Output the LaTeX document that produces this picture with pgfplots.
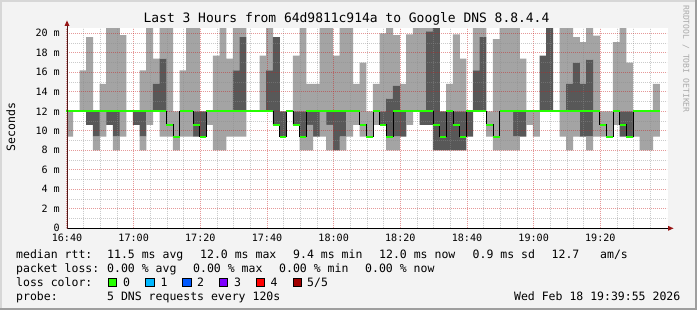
\documentclass[border=0pt]{standalone}
\usepackage{pgfplots}
\pgfplotsset{compat=1.18}
\usepackage{pgfplotstable}
\usepackage{fontspec}
\setmainfont{DejaVu Sans Mono}

\definecolor{bgc}{RGB}{243,243,243}
\definecolor{shadea}{RGB}{215,215,215}
\definecolor{shadeb}{RGB}{158,158,158}
\definecolor{smokelight}{RGB}{164,164,164}
\definecolor{smokedark}{RGB}{88,88,88}
\definecolor{lossg}{HTML}{26FF00}
\definecolor{loss1}{HTML}{00B8FF}
\definecolor{loss2}{HTML}{0059FF}
\definecolor{loss3}{HTML}{7E00FF}
\definecolor{loss4}{HTML}{FF0000}
\definecolor{loss5}{HTML}{A10000}
\definecolor{arrowc}{RGB}{150,20,20}
\definecolor{yaxc}{RGB}{80,25,25}
\definecolor{mgridc}{RGB}{200,30,30}
\definecolor{gridc}{RGB}{140,140,140}
\definecolor{wmark}{RGB}{170,170,170}

\newcommand{\lf}{\fontsize{11.5bp}{13bp}\selectfont}
\newcommand{\af}{\fontsize{10.08bp}{12bp}\selectfont}
\newcommand{\tf}{\fontsize{12.96bp}{15bp}\selectfont}
\newcommand{\wf}{\fontsize{8.1bp}{9bp}\selectfont}

% t = minutes after 16:40; lo = fastest ping, q1 = 2nd, med = median, q3 = 4th, hi = slowest (ms)
\pgfplotstableread{
t lo q1 med q3 hi
0 9.4 12 12 12 12
2 12 12 12 12 12
4 12 12 12 12 16.2
6 10.6 10.6 12 12 19.6
8 8 9.4 12 12 12
10 9.4 12 12 12 14.8
12 10.6 10.6 12 12 21
14 8 9.4 12 12 21
16 9.4 12 12 12 19.8
18 12 12 12 12 12
20 10.6 10.6 12 12 12
22 8 9.4 12 12 16.2
24 10.6 12 12 12 21
26 12 12 12 14.8 17.4
28 9.4 12 12 17.4 21
30 9.4 10.6 10.6 10.6 21
32 8 9.4 9.4 9.4 12
34 9.4 12 12 12 16.2
36 9.4 12 12 12 21
38 9.4 9.4 10.6 12 21
40 9.4 9.4 9.4 12 12
42 10.6 12 12 12 12
44 8 12 12 12 17.7
46 8 12 12 12 21
48 9.4 12 12 12 17.4
50 9.4 12 12 16.2 21
52 9.4 12 12 19.6 21
54 12 12 12 12 12
56 12 12 12 12 12
58 12 12 12 12 17.7
60 12 12 12 16.2 21
62 10.6 10.6 10.6 19.6 19.6
64 9.4 9.4 9.4 12 12
66 12 12 12 12 12
68 10.6 10.6 10.6 12 17.7
70 8 9.4 9.4 12 21
72 8 10.6 12 12 14.8
74 9.4 9.4 12 12 14.8
76 9.4 12 12 12 21
78 8 10.6 12 12 21
80 8 8 12 12 17.7
82 8 9.4 12 12 21
84 9.4 12 12 12 21
86 10.6 12 12 12 14.8
88 9.4 10.6 10.6 10.6 17.0
90 9.4 9.4 9.4 9.4 12
92 10.6 12 12 12 14.8
94 10.6 10.6 10.6 12 20.0
96 8 9.4 9.4 13.3 21
98 8 9.4 12 14.6 19.8
100 9.4 9.4 12 12 14.8
102 10.6 12 12 12 19.9
104 12 12 12 12 21
106 10.6 10.6 12 12 21
108 10.6 10.6 12 20.2 21
110 8 8 10.6 21 21
112 8 8 9.4 12 12
114 8 8 12 12 14.8
116 8 8 10.6 12 19.9
118 8 8 9.4 12 17.4
120 9.4 9.4 12 12 12
122 12 12 12 16.2 21
124 12 12 12 19.6 21
126 9.4 10.6 10.6 10.6 12
128 8 9.4 9.4 9.4 19.4
130 8 12 12 12 21
132 8 12 12 12 21
134 8 9.4 12 12 21
136 9.4 9.4 12 12 17.4
138 10.6 12 12 12 12
140 9.4 12 12 12 12
142 12 12 12 17.7 17.7
144 12 12 12 21 21
146 12 12 12 12 12
148 9.4 12 12 12 21
150 8 12 12 14.8 21
152 9.4 12 12 17.0 19.6
154 9.4 9.4 12 14.8 19.1
156 8 9.4 12 17.3 21
158 9.4 12 12 12 19.75
160 9.4 10.6 10.6 10.6 12
162 9.4 9.4 9.4 9.4 12
164 10.6 12 12 12 19.1
166 9.4 9.4 10.6 12 21
168 9.4 9.4 9.4 12 17.0
170 9.4 12 12 12 12
172 8 12 12 12 12
174 8 12 12 12 12
176 9.4 12 12 12 14.8
178 9.4 12 12 12 14.8
}\smoke

\pgfplotsset{
  chartframe/.style={
    at={(67bp,81.7bp)}, anchor=south west,
    scale only axis, width=600bp, height=200bp,
    xmin=0, xmax=180, ymin=0, ymax=20.5128,
  },
}

\begin{document}
\begin{tikzpicture}
\fill[bgc] (0,0) rectangle (697bp,310bp);
\fill[white] (67bp,81.7bp) rectangle (668bp,282bp);
% smoke layers
\begin{axis}[chartframe, hide axis,
  ybar stacked, bar width=2.06, bar shift=0pt,
  every axis plot/.append style={draw=none, skip coords between index={89}{90}},
]
\addplot[fill=none, draw=none] table[x expr=\thisrow{t}+0.8, y=lo] {\smoke};
\addplot[fill=smokelight, draw=none] table[x expr=\thisrow{t}+0.8, y expr=\thisrow{q1}-\thisrow{lo}] {\smoke};
\addplot[fill=smokedark, draw=none] table[x expr=\thisrow{t}+0.8, y expr=\thisrow{q3}-\thisrow{q1}] {\smoke};
\addplot[fill=smokelight, draw=none] table[x expr=\thisrow{t}+0.8, y expr=\thisrow{hi}-\thisrow{q3}] {\smoke};
\end{axis}
% grid, labels, median
\begin{axis}[chartframe,
  axis line style={draw=none},
  tick style={draw=none},
  xtick={0,20,...,160},
  xticklabels={16:40,17:00,17:20,17:40,18:00,18:20,18:40,19:00,19:20},
  minor xtick={5,10,15,25,30,35,45,50,55,65,70,75,85,90,95,105,110,115,125,130,135,145,150,155,165,170,175},
  ytick={0,2,...,20},
  yticklabels={0,2 m,4 m,6 m,8 m,10 m,12 m,14 m,16 m,18 m,20 m},
  minor ytick={1,3,...,19},
  grid=both,
  major grid style={draw=mgridc, draw opacity=0.45, dash pattern=on 1bp off 1bp, line width=1bp},
  minor grid style={draw=gridc, draw opacity=0.45, dash pattern=on 1bp off 1bp, line width=1bp},
  ticklabel style={font=\af},
  xticklabel style={anchor=north, inner sep=0pt, yshift=-5.5bp},
  yticklabel style={anchor=east, inner sep=0pt, xshift=-7bp},
]
\addplot[black, line width=0.9bp, const plot mark left] table[x expr=\thisrow{t}-0.2, y=med] {\smoke};
\addplot[only marks, mark=-, mark size=3.333bp, mark options={draw=lossg, line width=2bp, solid}, skip coords between index={89}{90}] table[x expr=\thisrow{t}+0.8, y=med] {\smoke};
\end{axis}
\begin{scope}[x=1bp, y=-1bp, yshift=310bp]
  % frame shading
  \draw[shadea, line width=2bp] (0,1) -- (697,1);
  \draw[shadea, line width=2bp] (1,0) -- (1,310);
  \draw[shadeb, line width=2bp] (696,0) -- (696,310);
  \draw[shadeb, line width=2bp] (0,309) -- (697,309);
  % axes
  \draw[black, line width=1bp] (66.5,228.3) -- (668,228.3);
  \fill[arrowc] (668,225.8) -- (673.5,228.3) -- (668,230.8) -- cycle;
  \draw[yaxc, line width=1bp] (67,228.8) -- (67,26);
  \fill[arrowc] (64.5,26) -- (67,20.5) -- (69.5,26) -- cycle;
  % title and labels
  \node[anchor=base, inner sep=0pt, font=\tf] at (346.5,23) {Last 3 Hours from 64d9811c914a to Google DNS 8.8.4.4};
  \node[rotate=90, inner sep=0pt, font=\lf] at (10.8,127) {Seconds};
  \node[rotate=-90, inner sep=0pt, font=\wf, text=wmark] at (686,59) {RRDTOOL / TOBI OETIKER};
  % legend
  \begin{scope}[every node/.style={anchor=base west, inner sep=0pt, font=\lf}]
    \node at (16,258.7) {median rtt:};
    \node at (107,258.7) {11.5 ms avg};
    \node at (200,258.7) {12.0 ms max};
    \node at (293,258.7) {9.4 ms min};
    \node at (379,258.7) {12.0 ms now};
    \node at (472.5,258.7) {0.9 ms sd};
    \node at (551.5,258.7) {12.7};
    \node at (600,258.7) {am/s};
    \node at (16,272.5) {packet loss:};
    \node at (107,272.5) {0.00 \% avg};
    \node at (193,272.5) {0.00 \% max};
    \node at (279,272.5) {0.00 \% min};
    \node at (365,272.5) {0.00 \% now};
    \node at (16,286.4) {loss color:};
    \node at (123,286.4) {0};
    \node at (160.5,286.4) {1};
    \node at (197,286.4) {2};
    \node at (234,286.4) {3};
    \node at (270.5,286.4) {4};
    \node at (307,286.4) {5/5};
    \node at (16,300.3) {probe:};
    \node at (107,300.3) {5 DNS requests every 120s};
  \end{scope}
  \node[anchor=base east, inner sep=0pt, font=\lf] at (680.5,300.3) {Wed Feb 18 19:39:55 2026};
  \draw[black, line width=0.8bp, fill=lossg] (108.5,278.3) rectangle (116.7,286.2);
  \draw[black, line width=0.8bp, fill=loss1] (145.7,278.3) rectangle (153.9,286.2);
  \draw[black, line width=0.8bp, fill=loss2] (182.7,278.3) rectangle (190.9,286.2);
  \draw[black, line width=0.8bp, fill=loss3] (219.5,278.3) rectangle (227.7,286.2);
  \draw[black, line width=0.8bp, fill=loss4] (256.2,278.3) rectangle (264.4,286.2);
  \draw[black, line width=0.8bp, fill=loss5] (293.4,278.3) rectangle (301.6,286.2);
\end{scope}
\pgfresetboundingbox
\path[use as bounding box] (0,0) rectangle (697bp,310bp);
\end{tikzpicture}
\end{document}
